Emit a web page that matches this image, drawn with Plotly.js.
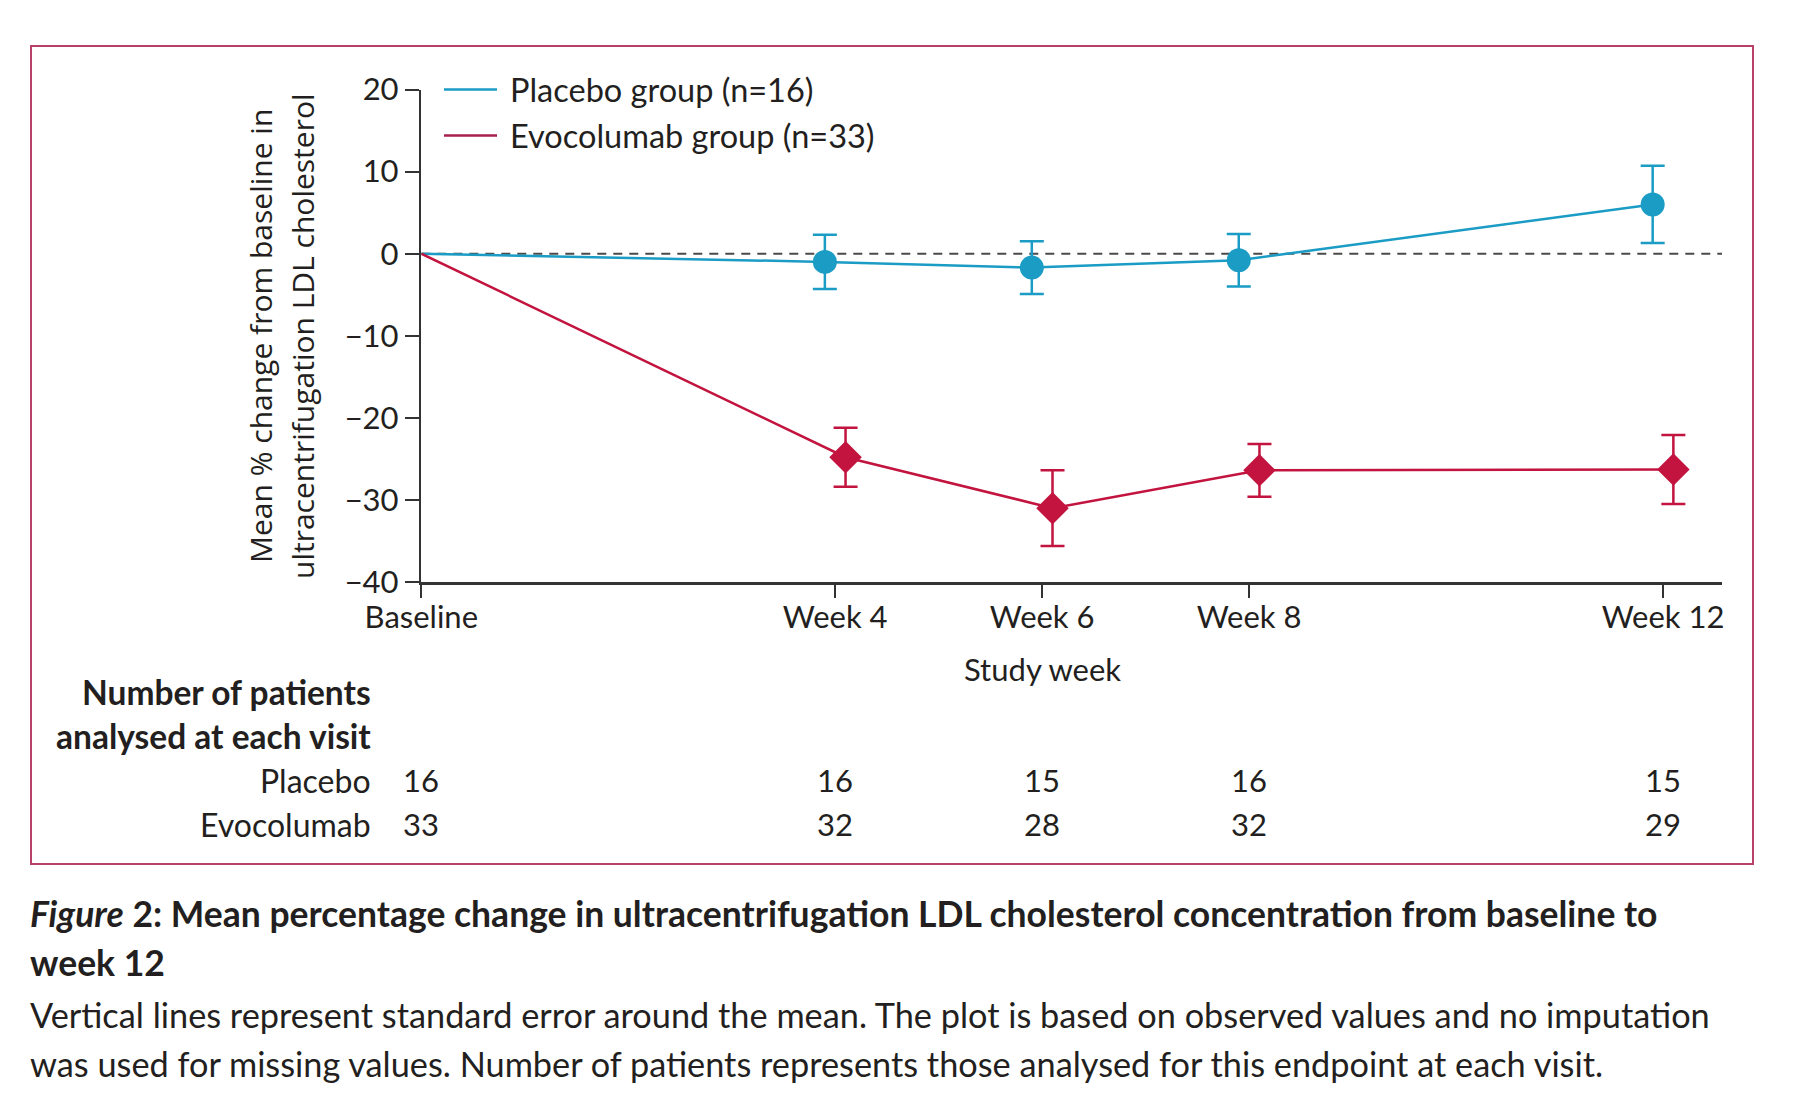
<!DOCTYPE html>
<html>
<head>
<meta charset="utf-8">
<script src="https://cdn.plot.ly/plotly-3.0.1.min.js"></script>
<style>
  html, body { margin: 0; padding: 0; background: #ffffff; }
  #chart { width: 1800px; height: 1103px; }
</style>
</head>
<body>
<div id="chart"></div>
<script>
// Study visits (weeks from baseline) and their axis labels
const weeks = [0, 4, 6, 8, 12];
const weekLabels = ['Baseline', 'Week 4', 'Week 6', 'Week 8', 'Week 12'];

// Mean % change from baseline in ultracentrifugation LDL cholesterol, with standard errors
const placeboMean = [0, -1.0, -1.7, -0.8, 6.0];
const placeboSE   = [0, 3.3, 3.2, 3.2, 4.7];
const evoMean     = [0, -24.8, -31.0, -26.4, -26.3];
const evoSE       = [0, 3.6, 4.6, 3.2, 4.2];

// Patients analysed at each visit
const placeboN = [16, 16, 15, 16, 15];
const evoN     = [33, 32, 28, 32, 29];

const groupNames = ['Placebo group (n=16)', 'Evocolumab group (n=33)'];
const rowLabels = ['Placebo', 'Evocolumab'];

const W = 1800, H = 1103;
const px = v => v / W;          // horizontal pixel -> paper fraction
const py = v => 1 - v / H;      // vertical pixel -> paper fraction

const BLUE = '#1a9cc4';
const RED = '#c2143f';
const INK = '#231f20';
const FONT = 'Lato, "Noto Sans", sans-serif';

// Small horizontal dodge so the two groups' error bars do not overlap
const dodge = (xs, d) => xs.map(w => (w === 0 ? w : w + d));
const xPlacebo = dodge(weeks, -0.1);
const xEvo = dodge(weeks, 0.1);

function lineTrace(x, y, color) {
  return { x, y, type: 'scatter', mode: 'lines', showlegend: false, hoverinfo: 'skip',
           line: { color, width: 2.5 } };
}
function markerTrace(x, y, se, color, symbol, size) {
  return { x: x.slice(1), y: y.slice(1), type: 'scatter', mode: 'markers', showlegend: false,
           marker: { color, symbol, size, line: { width: 0 } },
           error_y: { type: 'data', array: se.slice(1), visible: true, color, thickness: 2.5, width: 12 } };
}

const traces = [
  lineTrace(xPlacebo, placeboMean, BLUE),
  lineTrace(xEvo, evoMean, RED),
  markerTrace(xPlacebo, placeboMean, placeboSE, BLUE, 'circle', 24),
  markerTrace(xEvo, evoMean, evoSE, RED, 'diamond', 25)
];

const annotations = [];
const shapes = [];

// Outer frame of the figure panel
shapes.push({ type: 'rect', xref: 'paper', yref: 'paper', layer: 'below',
  x0: px(31), x1: px(1753), y0: py(864), y1: py(46),
  line: { color: '#b8416a', width: 2 } });

// Zero reference line
shapes.push({ type: 'line', xref: 'x domain', yref: 'y', layer: 'below',
  x0: 0, x1: 1, y0: 0, y1: 0,
  line: { color: '#4a4a4a', width: 2, dash: '9px,7px' } });

// Legend (line keys + labels)
const legendRows = [
  { y: 89.5, color: BLUE, text: groupNames[0] },
  { y: 135.5, color: '#a8204c', text: groupNames[1] }
];
legendRows.forEach(r => {
  shapes.push({ type: 'line', xref: 'paper', yref: 'paper',
    x0: px(444), x1: px(497), y0: py(r.y), y1: py(r.y),
    line: { color: r.color, width: 2.5 } });
  annotations.push({ xref: 'paper', yref: 'paper', x: px(508), y: py(r.y),
    xanchor: 'left', yanchor: 'middle', showarrow: false, text: r.text,
    font: { family: FONT, size: 32.5, color: INK } });
});

// Y-axis title, two lines
[['Mean % change from baseline in', 261], ['ultracentrifugation LDL cholesterol', 303]].forEach(([t, x]) => {
  annotations.push({ xref: 'paper', yref: 'paper', x: px(x), y: py(336),
    xanchor: 'center', yanchor: 'middle', textangle: -90, showarrow: false, text: t,
    font: { family: '"Open Sans", sans-serif', size: 30, color: INK } });
});

// X-axis title
annotations.push({ xref: 'paper', yref: 'paper', x: px(1042), y: py(669),
  xanchor: 'center', yanchor: 'middle', showarrow: false, text: 'Study week',
  font: { family: FONT, size: 31, color: INK } });

// Patients-at-visit table
annotations.push({ xref: 'paper', yref: 'paper', x: px(373), y: py(692), xanchor: 'right', yanchor: 'middle',
  showarrow: false, text: '<b>Number of patients</b>', font: { family: FONT, size: 33.5, color: INK } });
annotations.push({ xref: 'paper', yref: 'paper', x: px(373), y: py(736), xanchor: 'right', yanchor: 'middle',
  showarrow: false, text: '<b>analysed at each visit</b>', font: { family: FONT, size: 33.5, color: INK } });
[[rowLabels[0], placeboN, 780], [rowLabels[1], evoN, 824]].forEach(([label, counts, y]) => {
  annotations.push({ xref: 'paper', yref: 'paper', x: px(373), y: py(y), xanchor: 'right', yanchor: 'middle',
    showarrow: false, text: label, font: { family: FONT, size: 32, color: INK } });
  counts.forEach((n, i) => {
    annotations.push({ xref: 'x', yref: 'paper', x: weeks[i], y: py(y), xanchor: 'center', yanchor: 'middle',
      showarrow: false, text: String(n), font: { family: FONT, size: 31, color: INK } });
  });
});

// Figure caption
const captionLines = [
  ['<b><i>Figure</i> 2: Mean percentage change in ultracentrifugation LDL cholesterol concentration from baseline to</b>', 913, 35.5],
  ['<b>week 12</b>', 962, 35.5],
  ['Vertical lines represent standard error around the mean. The plot is based on observed values and no imputation', 1014, 34.3],
  ['was used for missing values. Number of patients represents those analysed for this endpoint at each visit.', 1063, 34.3]
];
captionLines.forEach(([t, y, s]) => {
  annotations.push({ xref: 'paper', yref: 'paper', x: px(28), y: py(y), xanchor: 'left', yanchor: 'middle',
    showarrow: false, text: t, font: { family: FONT, size: s, color: INK } });
});

const layout = {
  width: W, height: H,
  margin: { l: 0, r: 0, t: 0, b: 0 },
  paper_bgcolor: '#ffffff', plot_bgcolor: '#ffffff',
  showlegend: false,
  font: { family: FONT, color: INK },
  xaxis: {
    domain: [px(421.3), px(1722)],
    range: [0, 12.57],
    tickvals: weeks, ticktext: weekLabels,
    ticks: 'outside', ticklen: 13, tickwidth: 2, tickcolor: '#333333',
    ticklabelstandoff: -7,
    showline: true, linecolor: '#333333', linewidth: 2.5,
    showgrid: false, zeroline: false,
    tickfont: { family: FONT, size: 31, color: INK }
  },
  yaxis: {
    domain: [py(582), py(89.5)],
    range: [-40, 20],
    tickvals: [-40, -30, -20, -10, 0, 10, 20],
    ticks: 'outside', ticklen: 14, tickwidth: 2, tickcolor: '#333333',
    showline: true, linecolor: '#333333', linewidth: 2.5,
    showgrid: false, zeroline: false,
    tickfont: { family: FONT, size: 31, color: INK }
  },
  shapes, annotations
};

Plotly.newPlot('chart', traces, layout, { staticPlot: true, displayModeBar: false });
</script>
</body>
</html>
